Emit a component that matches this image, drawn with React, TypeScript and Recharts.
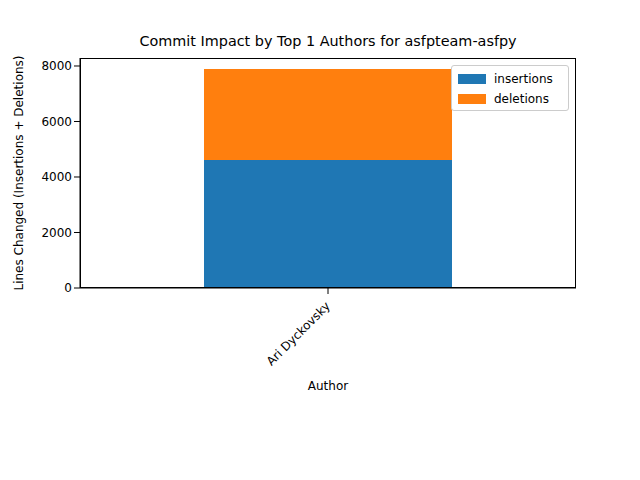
import React from "react";
import { BarChart, Bar, XAxis, YAxis } from "recharts";

const authors = ["Ari Dyckovsky"];
const insertions = [4610];
const deletions = [3280];
const yTicks = [0, 2000, 4000, 6000, 8000];

const data = authors.map((a, i) => ({ author: a, insertions: insertions[i], deletions: deletions[i] }));
const font = "DejaVu Sans, sans-serif";

const Tick = (props: any) => {
  const { x, y, payload } = props;
  return (
    <g transform={`translate(${x},${y + 8})`}>
      <text transform="rotate(-45)" textAnchor="end" dy={4} fontSize={12} fill="#000" fontFamily={font}>
        {payload.value}
      </text>
    </g>
  );
};

export default function App() {
  return (
    <div style={{ position: "relative", width: 640, height: 480, margin: -8, background: "#fff", fontFamily: font }}>
      <BarChart width={640} height={480} data={data} margin={{ top: 58, right: 64, bottom: 0, left: 0 }} barCategoryGap="25%">
        <XAxis dataKey="author" height={192} tick={<Tick />} tickLine={{ stroke: "#000" }} axisLine={{ stroke: "#000" }}
          label={{ value: "Author", position: "insideTop", dy: 88, fontSize: 12, fill: "#000", fontFamily: font }} />
        <YAxis width={80} domain={[0, 8288]} ticks={yTicks} tick={{ fontSize: 12, fill: "#000", fontFamily: font }}
          tickLine={{ stroke: "#000" }} axisLine={{ stroke: "#000" }}
          label={{ value: "Lines Changed (Insertions + Deletions)", angle: -90, position: "insideLeft", dx: 14, dy: 0, fontSize: 12, fill: "#000", fontFamily: font, style: { textAnchor: "middle" } }} />
        <Bar dataKey="insertions" stackId="a" fill="#1f77b4" isAnimationActive={false} />
        <Bar dataKey="deletions" stackId="a" fill="#ff7f0e" isAnimationActive={false} />
      </BarChart>
      <div style={{ position: "absolute", left: 80, top: 58, width: 496, height: 230, border: "1px solid #000", boxSizing: "border-box", pointerEvents: "none" }} />
      <div style={{ position: "absolute", left: 0, width: 656, top: 33, textAlign: "center", fontSize: 14.4, color: "#000" }}>
        Commit Impact by Top 1 Authors for asfpteam-asfpy
      </div>
      <div style={{ position: "absolute", left: 451, top: 65, width: 118, height: 46, border: "1px solid #ccc", borderRadius: 3, background: "rgba(255,255,255,0.8)", boxSizing: "border-box", fontSize: 12, padding: "3px 6px" }}>
        {[["insertions", "#1f77b4"], ["deletions", "#ff7f0e"]].map(([n, c]) => (
          <div key={n} style={{ display: "flex", alignItems: "center", height: 20 }}>
            <span style={{ width: 28, height: 10, background: c, marginRight: 8, display: "inline-block" }} />
            {n}
          </div>
        ))}
      </div>
    </div>
  );
}
